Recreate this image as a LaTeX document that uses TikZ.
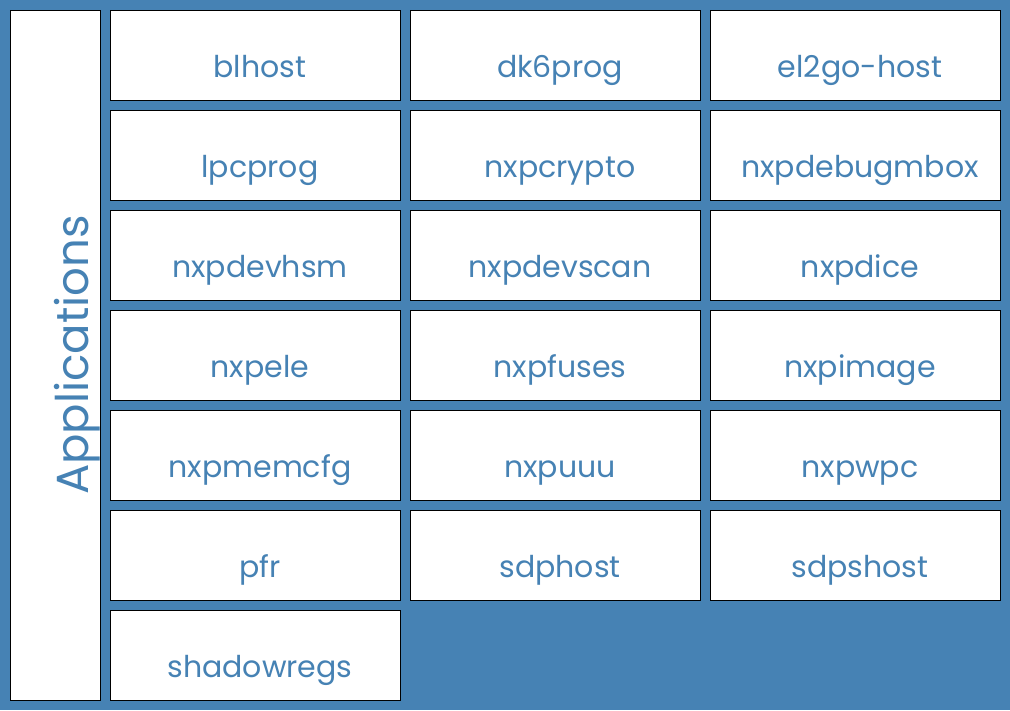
\documentclass[tikz,border=0pt]{standalone}
\usepackage{fontspec}
\setmainfont{Poppins}
\definecolor{appblue}{HTML}{4682B4}

\begin{document}
\begin{tikzpicture}[x=1pt,y=-1pt,
  toolbox/.style={draw=black,line width=1pt,fill=white,minimum width=290pt,
    minimum height=90pt,inner sep=0pt,anchor=north west},
  toollabel/.style={text=appblue,font=\fontsize{30}{33}\selectfont,anchor=base}]

% Background
\fill[appblue] (0,0) rectangle (1010,710);

% Applications
\node[toolbox,minimum width=90pt,minimum height=690pt] (apps) at (10,9.5) {};
\node[text=appblue,font=\fontsize{45}{50}\selectfont,rotate=90,anchor=base]
  (appslabel) at (88.5,355) {Applications};

% Grid of tools
\foreach \i [count=\n from 0] in {blhost,dk6prog,el2go-host,lpcprog,nxpcrypto,
    nxpdebugmbox,nxpdevhsm,nxpdevscan,nxpdice,nxpele,nxpfuses,nxpimage,
    nxpmemcfg,nxpuuu,nxpwpc,pfr,sdphost,sdpshost,shadowregs} {
  \pgfmathtruncatemacro\col{mod(\n,3)}
  \pgfmathtruncatemacro\row{div(\n,3)}
  \node[toolbox] (\i) at (110+300*\col,10+100*\row) {};
  \node[toollabel] (\i-label) at (260+300*\col,77.5+100*\row) {\i};
}

\end{tikzpicture}
\end{document}
